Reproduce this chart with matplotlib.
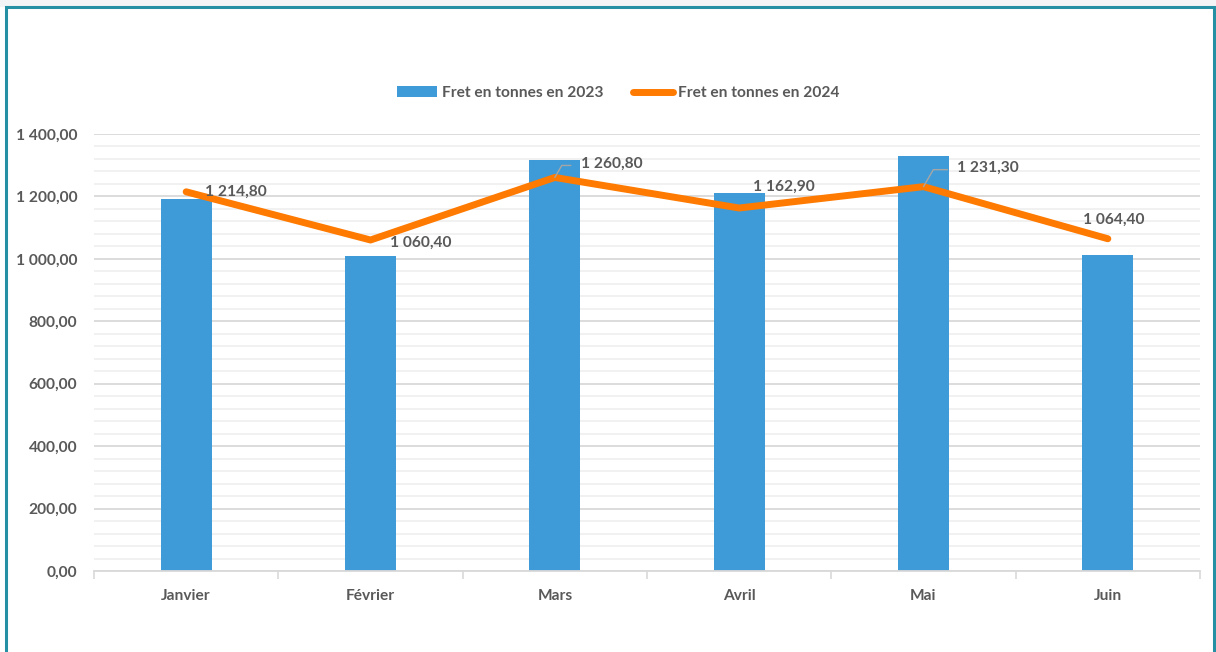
import matplotlib.pyplot as plt
import matplotlib.patches as mpatches
from matplotlib.ticker import MultipleLocator, FuncFormatter
import numpy as np

mois = ['Janvier', 'Février', 'Mars', 'Avril', 'Mai', 'Juin']
fret_2023 = [1192, 1008, 1317, 1211, 1328, 1011]
fret_2024 = [1214.8, 1060.4, 1260.8, 1162.9, 1231.3, 1064.4]

# label offsets (pixels) and whether a leader line is drawn
offsets = [(19, 0), (19, -3), (26, 14), (14, 21), (34, 19), (-25, 19)]
leaders = [False, False, True, False, True, False]

gris = '#595959'
taille = 11.2
plt.rcParams['font.family'] = ['Lato', 'DejaVu Sans']
plt.rcParams['font.weight'] = 'bold'

def fmt(v, pos=None):
    s = f'{v:,.2f}'
    return s.replace(',', ' ').replace('.', ',')

fig = plt.figure(figsize=(12.16, 6.52), dpi=100)
fig.patch.set_facecolor('white')
# grey strip at top and teal frame
fig.add_artist(mpatches.Rectangle((0, 1 - 7/652), 1, 7/652, transform=fig.transFigure,
                                  facecolor='#f3f4f5', edgecolor='none'))
fig.add_artist(mpatches.Rectangle((6/1216, -0.05), 1208/1216, 1.05 - 7/652,
                                  transform=fig.transFigure, facecolor='none',
                                  edgecolor='#2590a3', lw=2.2))

ax = fig.add_axes([94/1216, 1 - 571/652, 1106/1216, 437/652])
x = np.arange(len(mois))
barres = ax.bar(x, fret_2023, width=0.275, color='#3f9bd7', label='Fret en tonnes en 2023', zorder=2)
ligne, = ax.plot(x, fret_2024, color='#ff7a00', lw=5, solid_capstyle='round',
                 label='Fret en tonnes en 2024', zorder=3)

for i, v in enumerate(fret_2024):
    dx, dy = offsets[i]
    ax.annotate(fmt(v), (x[i], v), xytext=(dx, dy), textcoords='offset pixels',
                ha='left', va='center', fontsize=taille,
                color=gris, fontweight='bold', zorder=4)
    if leaders[i]:
        ax.annotate('', (x[i], v), xytext=(dx - 10, dy - 2), textcoords='offset pixels',
                    arrowprops=dict(arrowstyle='-', color='#a6a6a6', lw=1,
                                    connectionstyle='angle,angleA=0,angleB=60,rad=0',
                                    shrinkA=0, shrinkB=0), zorder=4)

ax.set_xlim(-0.5, len(mois) - 0.5)
ax.set_ylim(0, 1400)
ax.yaxis.set_major_locator(MultipleLocator(200))
ax.yaxis.set_minor_locator(MultipleLocator(40))
ax.yaxis.set_major_formatter(FuncFormatter(fmt))
ax.grid(axis='y', which='major', color='#d9d9d9', lw=1.3, zorder=0)
ax.grid(axis='y', which='minor', color='#f0f0f0', lw=1.3, zorder=0)
ax.set_axisbelow(True)

ax.set_xticks(x)
ax.set_xticklabels(mois)
ax.set_xticks(np.arange(-0.5, len(mois)), minor=True)
ax.tick_params(axis='x', which='major', length=0, pad=13, labelsize=taille, labelcolor=gris)
ax.tick_params(axis='x', which='minor', length=6, color='#d9d9d9', width=1.2)
ax.tick_params(axis='y', which='both', length=0, pad=12, labelsize=taille, labelcolor=gris)

for s in ['top', 'right', 'left']:
    ax.spines[s].set_visible(False)
ax.spines['bottom'].set_color('#d9d9d9')
ax.spines['bottom'].set_linewidth(1.3)

leg = ax.legend([barres, ligne], ['Fret en tonnes en 2023', 'Fret en tonnes en 2024'],
                loc='center', bbox_to_anchor=(0.474, 1 + 41/437), ncol=2, frameon=False,
                fontsize=taille, handlelength=2.6, handletextpad=0.3, columnspacing=1.9)
for t in leg.get_texts():
    t.set_color(gris)

fig.savefig('out.png', dpi=100)
